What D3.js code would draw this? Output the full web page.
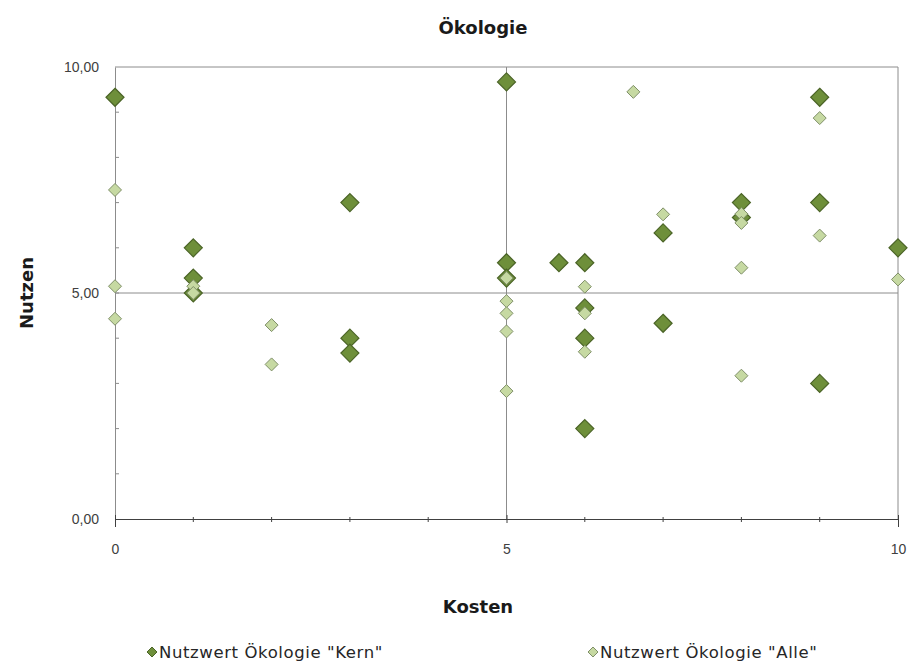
<!DOCTYPE html>
<html>
<head>
<meta charset="utf-8">
<script src="https://cdn.jsdelivr.net/npm/d3@7"></script>
<style>
  html, body { margin: 0; padding: 0; background: #fff; }
  svg { display: block; font-family: "DejaVu Sans", "Noto Sans", sans-serif; }
</style>
</head>
<body>
<svg id="chart" width="910" height="663"></svg>
<script>
// Nutzwert "Kern": Kosten (x) und Nutzen (y)
const kernKosten = [0, 1, 1, 1, 3, 3, 3, 5, 5, 5, 5.67, 6, 6, 6, 6, 7, 7, 8, 8, 9, 9, 9, 10];
const kernNutzen = [9.33, 6.0, 5.33, 5.0, 7.0, 4.0, 3.67, 9.67, 5.67, 5.33, 5.67, 5.67, 4.67, 4.0, 2.0, 6.33, 4.33, 7.0, 6.67, 9.33, 7.0, 3.0, 6.0];

// Nutzwert "Alle": Kosten (x) und Nutzen (y)
const alleKosten = [0, 0, 0, 1, 1, 2, 2, 5, 5, 5, 5, 5, 6, 6, 6, 6.62, 7, 8, 8, 8, 8, 9, 9, 10];
const alleNutzen = [7.28, 5.15, 4.43, 5.15, 5.0, 4.29, 3.42, 5.33, 4.82, 4.55, 4.15, 2.83, 5.14, 4.55, 3.7, 9.45, 6.74, 6.75, 6.55, 5.56, 3.17, 8.87, 6.27, 5.3];

const xTicks = [0, 5, 10];
const yTicks = [0, 5, 10];
const seriesNames = ['Nutzwert Ökologie "Kern"', 'Nutzwert Ökologie "Alle"'];

const svg = d3.select("#chart");
const plotLeft = 115, plotRight = 898, plotTop = 67, plotBottom = 519;

const x = d3.scaleLinear().domain([0, 10]).range([plotLeft, plotRight]);
const y = d3.scaleLinear().domain([0, 10]).range([plotBottom, plotTop]);

const fmtY = v => d3.format(".2f")(v).replace(".", ",");

// Gitterlinien bei 5 und 10
svg.append("g").selectAll("line").data(yTicks.filter(d => d > 0)).join("line")
  .attr("x1", plotLeft).attr("x2", plotRight)
  .attr("y1", d => y(d)).attr("y2", d => y(d))
  .attr("stroke", "#8c8c8c").attr("stroke-width", 1);
svg.append("g").selectAll("line").data(xTicks.filter(d => d > 0)).join("line")
  .attr("x1", d => x(d)).attr("x2", d => x(d))
  .attr("y1", plotTop).attr("y2", plotBottom)
  .attr("stroke", "#8c8c8c").attr("stroke-width", 1);

// y-Achse mit Hilfsstrichen
const yAxis = svg.append("g").attr("transform", `translate(${plotLeft},0)`)
  .call(d3.axisLeft(y).tickValues(yTicks).tickFormat(fmtY).tickSize(0).tickPadding(16));
yAxis.select(".domain").attr("stroke", "#8c8c8c");
yAxis.selectAll("text").style("font-size", "14px").style("fill", "#404040");
svg.append("g").selectAll("line").data(d3.range(1, 10)).join("line")
  .attr("x1", plotLeft).attr("x2", plotLeft + 4)
  .attr("y1", d => y(d)).attr("y2", d => y(d))
  .attr("stroke", "#8c8c8c");

// x-Achse mit Hilfsstrichen
const xAxis = svg.append("g").attr("transform", `translate(0,${plotBottom})`)
  .call(d3.axisBottom(x).tickValues(xTicks).tickFormat(d3.format("d")).tickSize(8).tickPadding(17));
xAxis.select(".domain").attr("stroke", "#404040");
xAxis.selectAll(".tick line").attr("stroke", "#404040").attr("transform", "translate(0,-4)");
xAxis.selectAll("text").style("font-size", "14px").style("fill", "#404040");
svg.append("g").selectAll("line").data(d3.range(1, 10).filter(d => d !== 5)).join("line")
  .attr("x1", d => x(d)).attr("x2", d => x(d))
  .attr("y1", plotBottom - 2).attr("y2", plotBottom + 3)
  .attr("stroke", "#404040");

// Rauten
const diamond = r => `M0,${-r}L${r},0L0,${r}L${-r},0Z`;

const kern = kernKosten.map((k, i) => ({ k, n: kernNutzen[i] }));
const alle = alleKosten.map((k, i) => ({ k, n: alleNutzen[i] }));

svg.append("g").selectAll("path").data(kern).join("path")
  .attr("d", diamond(9))
  .attr("transform", d => `translate(${x(d.k)},${y(d.n)})`)
  .attr("fill", "#6e8f3a").attr("stroke", "#4b6427").attr("stroke-width", 1.2);

svg.append("g").selectAll("path").data(alle).join("path")
  .attr("d", diamond(6.5))
  .attr("transform", d => `translate(${x(d.k)},${y(d.n)})`)
  .attr("fill", "#c6d9a2").attr("stroke", "#7f8f68").attr("stroke-width", 1);

// Titel und Achsentitel
svg.append("text").attr("x", 483).attr("y", 34).attr("text-anchor", "middle")
  .attr("font-size", 18).attr("font-weight", "bold").attr("fill", "#1a1a1a").text("Ökologie");
svg.append("text").attr("x", 478).attr("y", 613).attr("text-anchor", "middle")
  .attr("font-size", 18).attr("font-weight", "bold").attr("fill", "#1a1a1a").text("Kosten");
svg.append("text").attr("transform", "translate(33,293) rotate(-90)").attr("text-anchor", "middle")
  .attr("font-size", 18).attr("font-weight", "bold").attr("fill", "#1a1a1a").text("Nutzen");

// Legende
const legend = svg.append("g");
const legendItems = [
  { name: seriesNames[0], x: 152, fill: "#6e8f3a", stroke: "#4b6427" },
  { name: seriesNames[1], x: 593, fill: "#c6d9a2", stroke: "#7f8f68" }
];
legendItems.forEach(it => {
  legend.append("path").attr("d", diamond(5))
    .attr("transform", `translate(${it.x},652)`)
    .attr("fill", it.fill).attr("stroke", it.stroke);
  legend.append("text").attr("x", it.x + 7).attr("y", 658)
    .attr("font-size", 16.5).attr("letter-spacing", 0.6)
    .attr("fill", "#262626").text(it.name);
});
</script>
</body>
</html>
